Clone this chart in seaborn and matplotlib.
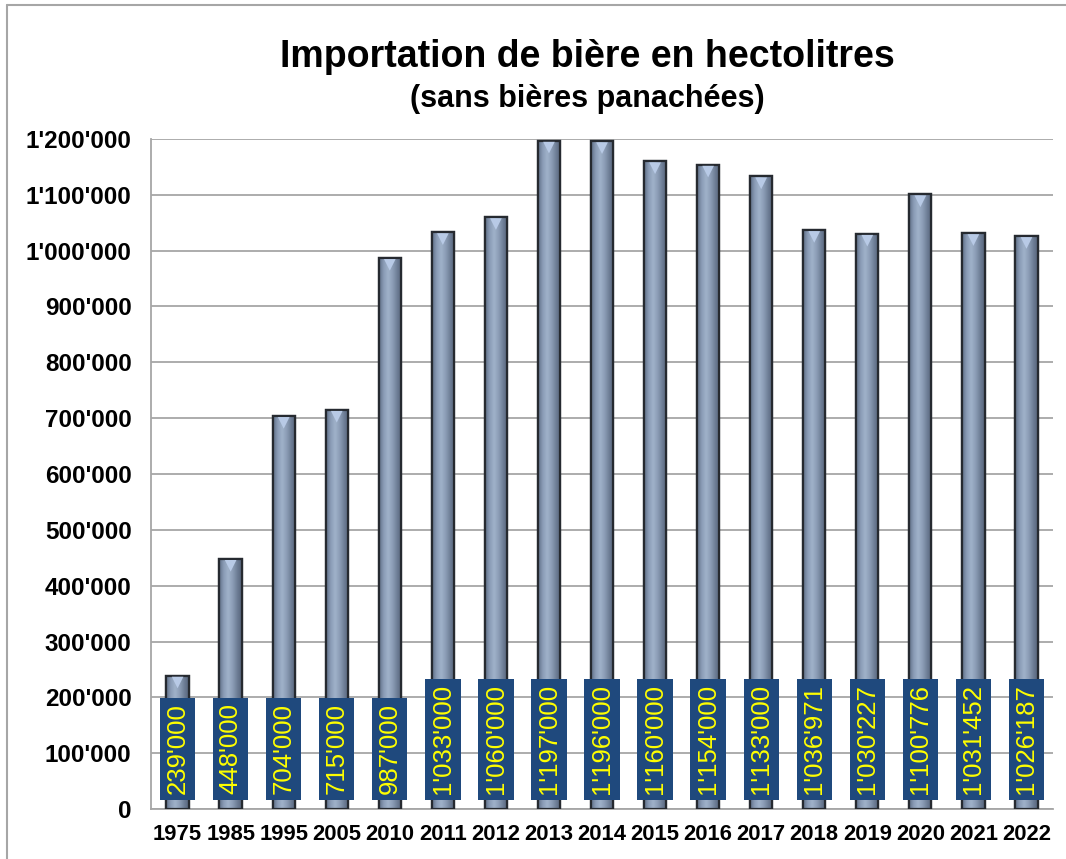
import matplotlib
matplotlib.use("Agg")
import matplotlib.pyplot as plt
from matplotlib.colors import LinearSegmentedColormap
from matplotlib.ticker import FuncFormatter, FixedLocator
from matplotlib.patches import Rectangle
from matplotlib.transforms import offset_copy
import numpy as np
import pandas as pd
import seaborn as sns

# données
annees = ["1975", "1985", "1995", "2005", "2010", "2011", "2012", "2013", "2014",
          "2015", "2016", "2017", "2018", "2019", "2020", "2021", "2022"]
hectolitres = [239000, 448000, 704000, 715000, 987000, 1033000, 1060000, 1197000,
               1196000, 1160000, 1154000, 1133000, 1036971, 1030227, 1100776,
               1031452, 1026187]

titre = "Importation de bière en hectolitres"
sous_titre = "(sans bières panachées)"

df = pd.DataFrame({"annee": annees, "hl": hectolitres})

sns.set_style("white")
plt.rcParams["font.family"] = ["Liberation Sans", "DejaVu Sans"]


def fmt_suisse(v, pos=None):
    return "{:,}".format(int(round(v))).replace(",", "'")


fig = plt.figure(figsize=(10.66, 8.59), dpi=100)
ax = fig.add_axes([0.1417, 0.0582, 0.8461, 0.78])

sns.barplot(data=df, x="annee", y="hl", color="#7d8ea8", width=0.42,
            edgecolor="#262a30", linewidth=1.6, saturation=1, ax=ax, zorder=3)

# dégradé horizontal sur les barres
degrade = LinearSegmentedColormap.from_list(
    "barre", ["#5f6f86", "#8a9cb6", "#a0b2ca", "#8c9db6", "#6e7e96", "#56647a"])
grad = np.linspace(0, 1, 64).reshape(1, -1)
for p in ax.patches:
    x0, y0 = p.get_x(), p.get_y()
    w, h = p.get_width(), p.get_height()
    im = ax.imshow(grad, cmap=degrade, aspect="auto", extent=[x0, x0 + w, y0, y0 + h],
                   zorder=3.5, interpolation="bicubic")
    im.set_clip_path(p)
    ax.add_patch(Rectangle((x0, y0), w, h, fill=False, edgecolor="#262a30",
                           linewidth=1.6, zorder=3.6))

# petit biseau triangulaire en haut des barres
decale = offset_copy(ax.transData, fig=fig, x=0, y=-5, units="points")
ax.scatter(range(len(annees)), hectolitres, marker="v", s=70, color="#b8cae6",
           edgecolors="none", zorder=3.7, transform=decale)

# étiquettes de valeur
for i, v in enumerate(hectolitres):
    ax.annotate(fmt_suisse(v), xy=(i, 0), xytext=(0, 10.5), textcoords="offset points",
                rotation=90, ha="center", va="bottom", fontsize=18.5, color="#ffff00",
                zorder=5,
                bbox=dict(boxstyle="square,pad=0.22", facecolor="#1f497d",
                          edgecolor="none"))

ax.set_ylim(0, 1200000)
ax.set_xlim(-0.5, len(annees) - 0.5)
ax.yaxis.set_major_locator(FixedLocator(np.arange(0, 1200001, 100000)))
ax.yaxis.set_major_formatter(FuncFormatter(fmt_suisse))
ax.grid(axis="y", color="#a6a6a6", linewidth=1.3, zorder=0)
ax.set_axisbelow(True)

ax.set_xlabel("")
ax.set_ylabel("")
for s in ["top", "right"]:
    ax.spines[s].set_visible(False)
for s in ["left", "bottom"]:
    ax.spines[s].set_color("#a6a6a6")
    ax.spines[s].set_linewidth(1.3)

ax.set_xticks(np.arange(len(annees)))
ax.set_xticklabels(annees)
ax.set_xticks(np.arange(-0.5, len(annees)), minor=True)
ax.tick_params(axis="x", which="major", length=0, pad=11, labelsize=15.8,
               labelcolor="black")
ax.tick_params(axis="x", which="minor", length=6, color="#a6a6a6", width=1.3)
ax.tick_params(axis="y", which="major", length=7, color="#a6a6a6", width=1.3,
               pad=7, labelsize=17.5, labelcolor="black")
for lab in ax.get_xticklabels() + ax.get_yticklabels():
    lab.set_fontweight("bold")

fig.text(0.551, 0.934, titre, ha="center", va="center", fontsize=27,
         fontweight="bold", color="black")
fig.text(0.551, 0.885, sous_titre, ha="center", va="center", fontsize=22,
         fontweight="bold", color="black")

# cadre gris autour du graphique
fig.add_artist(plt.Line2D([0.0066, 1.0], [0.9942, 0.9942], color="#a6a6a6",
                          linewidth=1.5, transform=fig.transFigure))
fig.add_artist(plt.Line2D([0.0066, 0.0066], [0.0, 0.9942], color="#a6a6a6",
                          linewidth=1.5, transform=fig.transFigure))

fig.savefig("out.png", dpi=100)
